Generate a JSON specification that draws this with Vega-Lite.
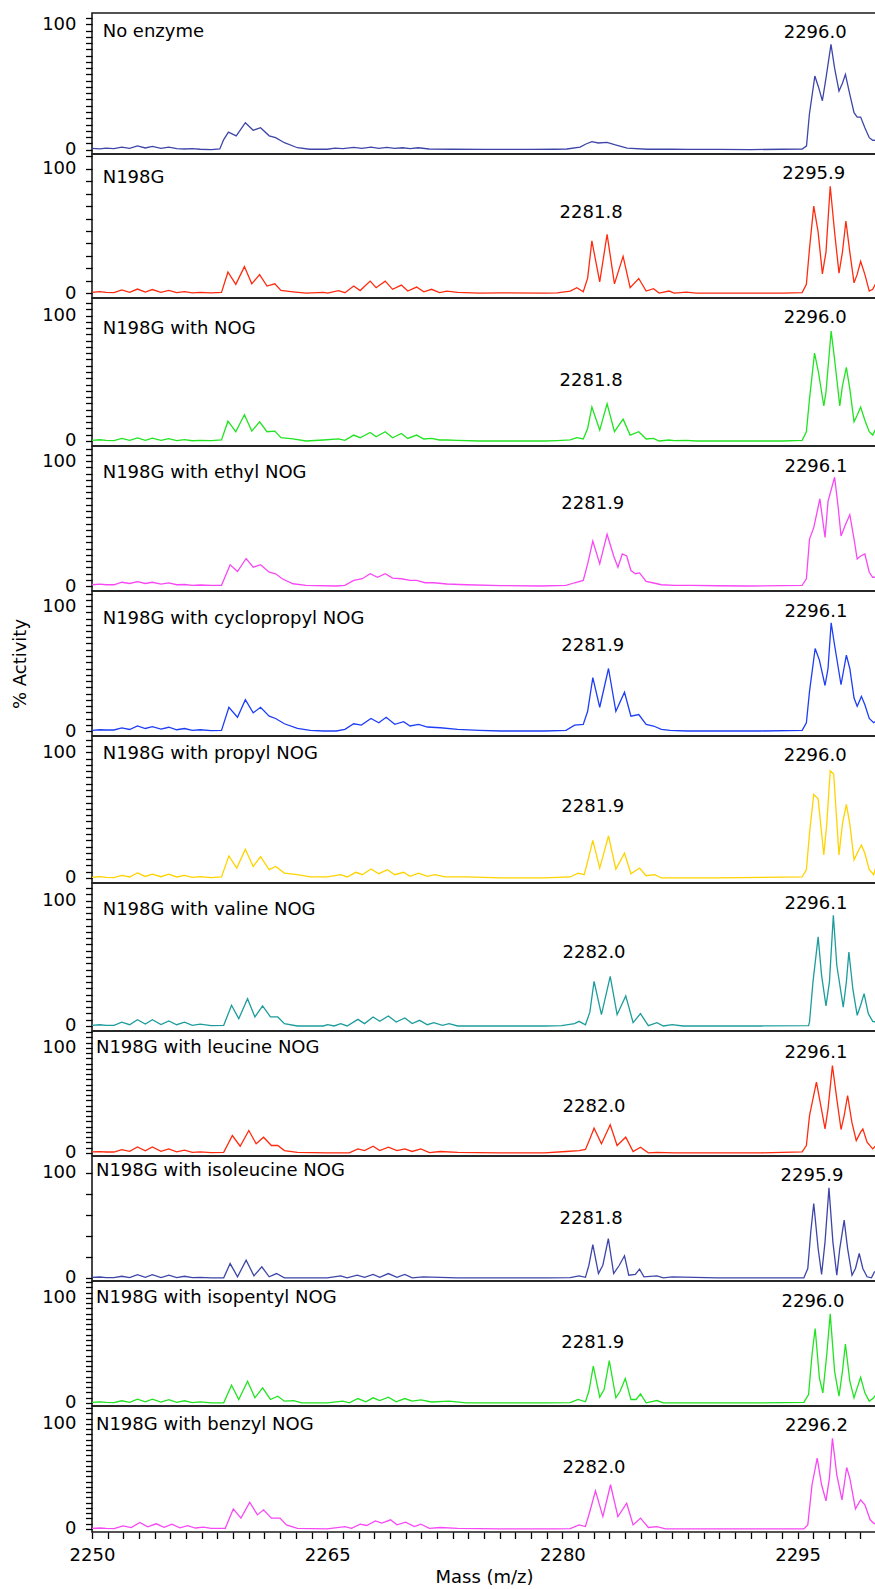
{
"$schema": "https://vega.github.io/schema/vega-lite/v6.json",
"padding": {"left": 10, "top": 8, "right": 0, "bottom": 4},
"background": "white",
"bounds": "flush",
"spacing": 0,
"config": {
"font": "DejaVu Sans",
"view": {"stroke": "#1a1a1a", "strokeWidth": 1.6},
"axis": {"domain": false, "grid": false, "ticks": true, "labelFont": "DejaVu Sans", "labelFontSize": 18, "labelColor": "#000", "tickColor": "#000", "tickWidth": 1.3, "tickSize": 6.5, "tickOpacity": 1, "tickRound": true, "titleFont": "DejaVu Sans", "titleFontSize": 18, "titleFontWeight": "normal", "titleColor": "#000", "labelOverlap": false, "labelFlush": false},
"text": {"font": "DejaVu Sans", "fontSize": 18, "baseline": "middle", "color": "#000"},
"line": {"strokeWidth": 1.3}
},
"datasets": {
"l": [
{"p":1,"k":"n","x":2250.68,"y":93.8,"t":"No enzyme"},
{"p":1,"k":"m","x":2296.12,"y":92.8,"t":"2296.0"},
{"p":2,"k":"n","x":2250.68,"y":92.7,"t":"N198G"},
{"p":2,"k":"m","x":2296.03,"y":95.9,"t":"2295.9"},
{"p":2,"k":"m","x":2281.83,"y":64.5,"t":"2281.8"},
{"p":3,"k":"n","x":2250.68,"y":89.3,"t":"N198G with NOG"},
{"p":3,"k":"m","x":2296.12,"y":97.7,"t":"2296.0"},
{"p":3,"k":"m","x":2281.83,"y":48.2,"t":"2281.8"},
{"p":4,"k":"n","x":2250.68,"y":90.4,"t":"N198G with ethyl NOG"},
{"p":4,"k":"m","x":2296.17,"y":95.2,"t":"2296.1"},
{"p":4,"k":"m","x":2281.94,"y":65.6,"t":"2281.9"},
{"p":5,"k":"n","x":2250.68,"y":89.6,"t":"N198G with cyclopropyl NOG"},
{"p":5,"k":"m","x":2296.17,"y":95.2,"t":"2296.1"},
{"p":5,"k":"m","x":2281.94,"y":68,"t":"2281.9"},
{"p":6,"k":"n","x":2250.68,"y":98.7,"t":"N198G with propyl NOG"},
{"p":6,"k":"m","x":2296.12,"y":97.1,"t":"2296.0"},
{"p":6,"k":"m","x":2281.94,"y":56.5,"t":"2281.9"},
{"p":7,"k":"n","x":2250.68,"y":92.5,"t":"N198G with valine NOG"},
{"p":7,"k":"m","x":2296.17,"y":97.3,"t":"2296.1"},
{"p":7,"k":"m","x":2282.02,"y":58.2,"t":"2282.0"},
{"p":8,"k":"n","x":2250.25,"y":99.8,"t":"N198G with leucine NOG"},
{"p":8,"k":"m","x":2296.17,"y":95.1,"t":"2296.1"},
{"p":8,"k":"m","x":2282.02,"y":43.6,"t":"2282.0"},
{"p":9,"k":"n","x":2250.25,"y":101.7,"t":"N198G with isoleucine NOG"},
{"p":9,"k":"m","x":2295.92,"y":97,"t":"2295.9"},
{"p":9,"k":"m","x":2281.83,"y":56,"t":"2281.8"},
{"p":10,"k":"n","x":2250.25,"y":99.8,"t":"N198G with isopentyl NOG"},
{"p":10,"k":"m","x":2295.98,"y":96,"t":"2296.0"},
{"p":10,"k":"m","x":2281.94,"y":57,"t":"2281.9"},
{"p":11,"k":"n","x":2250.25,"y":98.9,"t":"N198G with benzyl NOG"},
{"p":11,"k":"m","x":2296.2,"y":98,"t":"2296.2"},
{"p":11,"k":"m","x":2282.02,"y":58,"t":"2282.0"}
],
"s": [
{"p":1,"x":2250,"y":1},{"p":1,"x":2250.5,"y":0.6},{"p":1,"x":2250.9,"y":1.2},{"p":1,"x":2251.4,"y":0.8},{"p":1,"x":2251.9,"y":2},{"p":1,"x":2252.4,"y":1},{"p":1,"x":2252.9,"y":3},{"p":1,"x":2253.4,"y":1.3},{"p":1,"x":2253.85,"y":2.5},{"p":1,"x":2254.4,"y":1},{"p":1,"x":2254.9,"y":2},{"p":1,"x":2255.4,"y":0.8},{"p":1,"x":2255.9,"y":0.5},{"p":1,"x":2256.4,"y":0.8},{"p":1,"x":2256.9,"y":0.3},{"p":1,"x":2257.6,"y":0},
{"p":1,"x":2258.15,"y":0.5},{"p":1,"x":2258.4,"y":8},{"p":1,"x":2258.7,"y":14},{"p":1,"x":2259.2,"y":11},{"p":1,"x":2259.78,"y":21.5},{"p":1,"x":2260.28,"y":15.4},{"p":1,"x":2260.75,"y":17.5},{"p":1,"x":2261.3,"y":11},{"p":1,"x":2261.71,"y":9.5},{"p":1,"x":2262.27,"y":5.5},{"p":1,"x":2263.1,"y":1.5},{"p":1,"x":2263.9,"y":0.3},
{"p":1,"x":2265,"y":0.3},{"p":1,"x":2265.5,"y":1.2},{"p":1,"x":2266,"y":0.8},{"p":1,"x":2266.7,"y":1.8},{"p":1,"x":2267.2,"y":1},{"p":1,"x":2267.8,"y":2},{"p":1,"x":2268.3,"y":1},{"p":1,"x":2268.8,"y":1.8},{"p":1,"x":2269.3,"y":1},{"p":1,"x":2269.8,"y":1.5},{"p":1,"x":2270.3,"y":0.8},{"p":1,"x":2270.8,"y":1.5},{"p":1,"x":2271.5,"y":0.5},{"p":1,"x":2273,"y":0.3},{"p":1,"x":2275,"y":0.2},{"p":1,"x":2278,"y":0.2},{"p":1,"x":2279.5,"y":0.3},
{"p":1,"x":2280.28,"y":0.5},{"p":1,"x":2281.13,"y":2},{"p":1,"x":2281.5,"y":4.5},{"p":1,"x":2281.88,"y":6.3},{"p":1,"x":2282.29,"y":5.3},{"p":1,"x":2282.84,"y":5.8},{"p":1,"x":2283.38,"y":3.7},{"p":1,"x":2284.13,"y":1.2},{"p":1,"x":2285.41,"y":0.3},{"p":1,"x":2287,"y":0.3},{"p":1,"x":2288,"y":0.2},{"p":1,"x":2290,"y":0.2},{"p":1,"x":2292,"y":0},{"p":1,"x":2294,"y":0.3},{"p":1,"x":2295.3,"y":0.5},
{"p":1,"x":2295.57,"y":3},{"p":1,"x":2295.75,"y":28},{"p":1,"x":2296.1,"y":58.7},{"p":1,"x":2296.33,"y":50},{"p":1,"x":2296.58,"y":39},{"p":1,"x":2296.81,"y":57},{"p":1,"x":2297.13,"y":84},{"p":1,"x":2297.36,"y":65},{"p":1,"x":2297.64,"y":46.7},{"p":1,"x":2297.86,"y":53},{"p":1,"x":2298.05,"y":60},{"p":1,"x":2298.33,"y":44},{"p":1,"x":2298.6,"y":29.5},{"p":1,"x":2298.8,"y":26},{"p":1,"x":2299.02,"y":26},{"p":1,"x":2299.29,"y":17.5},{"p":1,"x":2299.57,"y":9.5},{"p":1,"x":2299.79,"y":7.4},{"p":1,"x":2300,"y":7.5},

{"p":2,"x":2250,"y":0.5},{"p":2,"x":2250.5,"y":1.2},{"p":2,"x":2250.9,"y":0.5},{"p":2,"x":2251.4,"y":0.3},{"p":2,"x":2251.9,"y":2.5},{"p":2,"x":2252.4,"y":0.5},{"p":2,"x":2252.9,"y":3.2},{"p":2,"x":2253.4,"y":0.8},{"p":2,"x":2253.85,"y":2.8},{"p":2,"x":2254.4,"y":0.5},{"p":2,"x":2254.9,"y":2.2},{"p":2,"x":2255.4,"y":0.3},{"p":2,"x":2255.9,"y":1.2},{"p":2,"x":2256.4,"y":0.2},{"p":2,"x":2256.9,"y":0.5},{"p":2,"x":2257.6,"y":0.2},
{"p":2,"x":2258.26,"y":0.5},{"p":2,"x":2258.67,"y":17},{"p":2,"x":2259.17,"y":7},{"p":2,"x":2259.72,"y":21.3},{"p":2,"x":2260.19,"y":7.4},{"p":2,"x":2260.69,"y":14.9},{"p":2,"x":2261.16,"y":5.6},{"p":2,"x":2261.66,"y":7.4},{"p":2,"x":2262.05,"y":2.1},{"p":2,"x":2262.82,"y":1},{"p":2,"x":2263.65,"y":0},{"p":2,"x":2264.75,"y":0.5},
{"p":2,"x":2265.03,"y":0},{"p":2,"x":2265.72,"y":2},{"p":2,"x":2266.13,"y":0.3},{"p":2,"x":2266.69,"y":5.6},{"p":2,"x":2267.1,"y":2},{"p":2,"x":2267.74,"y":9.6},{"p":2,"x":2268.12,"y":4.3},{"p":2,"x":2268.7,"y":9.6},{"p":2,"x":2269.17,"y":3},{"p":2,"x":2269.73,"y":6.4},{"p":2,"x":2270.14,"y":1.6},{"p":2,"x":2270.7,"y":4.8},{"p":2,"x":2271.16,"y":1},{"p":2,"x":2271.66,"y":3},{"p":2,"x":2272.16,"y":0.3},{"p":2,"x":2272.63,"y":1.6},{"p":2,"x":2273.32,"y":0.5},{"p":2,"x":2274.7,"y":0},{"p":2,"x":2276.08,"y":0.2},{"p":2,"x":2278.85,"y":0},{"p":2,"x":2279.67,"y":0.2},
{"p":2,"x":2280.5,"y":1.6},{"p":2,"x":2280.92,"y":4.3},{"p":2,"x":2281.33,"y":1},{"p":2,"x":2281.61,"y":12},{"p":2,"x":2281.88,"y":42},{"p":2,"x":2282.38,"y":9},{"p":2,"x":2282.85,"y":47.3},{"p":2,"x":2283.32,"y":7.4},{"p":2,"x":2283.87,"y":29.5},{"p":2,"x":2284.32,"y":4.3},{"p":2,"x":2284.87,"y":11.7},{"p":2,"x":2285.34,"y":1.6},{"p":2,"x":2285.81,"y":3.5},{"p":2,"x":2286.17,"y":0},{"p":2,"x":2286.8,"y":1.6},{"p":2,"x":2287.14,"y":0},{"p":2,"x":2287.91,"y":0.8},{"p":2,"x":2288.52,"y":0},{"p":2,"x":2289.9,"y":0},{"p":2,"x":2292.38,"y":0},{"p":2,"x":2294.04,"y":0},{"p":2,"x":2295.29,"y":0.3},
{"p":2,"x":2295.56,"y":7},{"p":2,"x":2295.76,"y":36},{"p":2,"x":2296.03,"y":70},{"p":2,"x":2296.31,"y":49},{"p":2,"x":2296.58,"y":15.4},{"p":2,"x":2296.81,"y":33},{"p":2,"x":2297.08,"y":86},{"p":2,"x":2297.36,"y":49},{"p":2,"x":2297.64,"y":16},{"p":2,"x":2297.86,"y":33},{"p":2,"x":2298.08,"y":58},{"p":2,"x":2298.33,"y":33},{"p":2,"x":2298.6,"y":8.2},{"p":2,"x":2298.8,"y":15},{"p":2,"x":2299.02,"y":25.5},{"p":2,"x":2299.29,"y":15},{"p":2,"x":2299.57,"y":1.6},{"p":2,"x":2299.79,"y":3},{"p":2,"x":2300,"y":8.2},

{"p":3,"x":2250,"y":0.5},{"p":3,"x":2250.5,"y":1},{"p":3,"x":2250.9,"y":0.5},{"p":3,"x":2251.4,"y":0.3},{"p":3,"x":2251.9,"y":2},{"p":3,"x":2252.4,"y":0.5},{"p":3,"x":2252.9,"y":2.5},{"p":3,"x":2253.4,"y":0.5},{"p":3,"x":2253.85,"y":2.2},{"p":3,"x":2254.4,"y":0.5},{"p":3,"x":2254.9,"y":1.8},{"p":3,"x":2255.4,"y":0.3},{"p":3,"x":2255.9,"y":1},{"p":3,"x":2256.4,"y":0.2},{"p":3,"x":2256.9,"y":0.5},{"p":3,"x":2257.6,"y":0.3},
{"p":3,"x":2258.26,"y":0.8},{"p":3,"x":2258.67,"y":15.8},{"p":3,"x":2259.17,"y":7.4},{"p":3,"x":2259.72,"y":21},{"p":3,"x":2260.19,"y":7.9},{"p":3,"x":2260.69,"y":15.3},{"p":3,"x":2261.16,"y":7.4},{"p":3,"x":2261.66,"y":7.9},{"p":3,"x":2262.05,"y":2.6},{"p":3,"x":2262.82,"y":1.6},{"p":3,"x":2263.65,"y":0},{"p":3,"x":2264.75,"y":0.8},
{"p":3,"x":2265.72,"y":1.6},{"p":3,"x":2266.13,"y":0.5},{"p":3,"x":2266.69,"y":4.7},{"p":3,"x":2267.1,"y":2.6},{"p":3,"x":2267.74,"y":6.8},{"p":3,"x":2268.12,"y":3.4},{"p":3,"x":2268.7,"y":7.4},{"p":3,"x":2269.17,"y":2.6},{"p":3,"x":2269.73,"y":6},{"p":3,"x":2270.14,"y":2},{"p":3,"x":2270.7,"y":4.7},{"p":3,"x":2271.16,"y":1.6},{"p":3,"x":2271.66,"y":2},{"p":3,"x":2272.16,"y":0.8},{"p":3,"x":2272.63,"y":0.8},{"p":3,"x":2273.32,"y":0.5},{"p":3,"x":2274.7,"y":0},{"p":3,"x":2276.08,"y":0},{"p":3,"x":2278.85,"y":0},{"p":3,"x":2279.67,"y":0.3},
{"p":3,"x":2280.5,"y":0.8},{"p":3,"x":2280.92,"y":2.6},{"p":3,"x":2281.33,"y":1.6},{"p":3,"x":2281.61,"y":10},{"p":3,"x":2281.88,"y":27},{"p":3,"x":2282.38,"y":8.7},{"p":3,"x":2282.85,"y":29.7},{"p":3,"x":2283.32,"y":7.4},{"p":3,"x":2283.87,"y":17.4},{"p":3,"x":2284.32,"y":4.7},{"p":3,"x":2284.87,"y":7.4},{"p":3,"x":2285.34,"y":1.6},{"p":3,"x":2285.81,"y":2},{"p":3,"x":2286.17,"y":0},{"p":3,"x":2286.8,"y":0.8},{"p":3,"x":2287.14,"y":0.3},{"p":3,"x":2287.91,"y":0.5},{"p":3,"x":2288.52,"y":0},{"p":3,"x":2289.9,"y":0},{"p":3,"x":2292.38,"y":0},{"p":3,"x":2294.04,"y":0},{"p":3,"x":2295.29,"y":0.5},
{"p":3,"x":2295.56,"y":7.4},{"p":3,"x":2295.76,"y":33.7},{"p":3,"x":2296.08,"y":70},{"p":3,"x":2296.33,"y":55},{"p":3,"x":2296.67,"y":27.9},{"p":3,"x":2296.81,"y":39},{"p":3,"x":2297.14,"y":87.6},{"p":3,"x":2297.36,"y":65},{"p":3,"x":2297.69,"y":28},{"p":3,"x":2297.86,"y":44},{"p":3,"x":2298.11,"y":58.7},{"p":3,"x":2298.33,"y":41.6},{"p":3,"x":2298.6,"y":15.3},{"p":3,"x":2298.8,"y":20.5},{"p":3,"x":2299.02,"y":27},{"p":3,"x":2299.29,"y":16.6},{"p":3,"x":2299.57,"y":7.4},{"p":3,"x":2299.79,"y":4.7},{"p":3,"x":2300,"y":10},

{"p":4,"x":2250,"y":1},{"p":4,"x":2250.5,"y":1.5},{"p":4,"x":2250.9,"y":1},{"p":4,"x":2251.4,"y":1},{"p":4,"x":2251.9,"y":3},{"p":4,"x":2252.4,"y":2},{"p":4,"x":2252.9,"y":3.5},{"p":4,"x":2253.4,"y":2},{"p":4,"x":2253.85,"y":3},{"p":4,"x":2254.4,"y":1.5},{"p":4,"x":2254.9,"y":2.5},{"p":4,"x":2255.4,"y":1},{"p":4,"x":2255.9,"y":1.2},{"p":4,"x":2256.4,"y":0.5},{"p":4,"x":2256.9,"y":0.8},{"p":4,"x":2257.6,"y":0.5},
{"p":4,"x":2258.26,"y":0.5},{"p":4,"x":2258.81,"y":17},{"p":4,"x":2259.28,"y":11.6},{"p":4,"x":2259.83,"y":22},{"p":4,"x":2260.28,"y":15},{"p":4,"x":2260.75,"y":17},{"p":4,"x":2261.3,"y":11},{"p":4,"x":2261.71,"y":9.8},{"p":4,"x":2262.13,"y":5.8},{"p":4,"x":2262.82,"y":1.8},{"p":4,"x":2263.65,"y":0.5},{"p":4,"x":2265.58,"y":0},
{"p":4,"x":2266.13,"y":0.5},{"p":4,"x":2266.69,"y":4.5},{"p":4,"x":2267.24,"y":5.8},{"p":4,"x":2267.74,"y":9.8},{"p":4,"x":2268.21,"y":7},{"p":4,"x":2268.7,"y":9.8},{"p":4,"x":2269.17,"y":6.3},{"p":4,"x":2269.73,"y":5.8},{"p":4,"x":2270.28,"y":4.5},{"p":4,"x":2270.7,"y":4.5},{"p":4,"x":2271.25,"y":2.6},{"p":4,"x":2271.8,"y":2.6},{"p":4,"x":2272.63,"y":1.6},{"p":4,"x":2273.87,"y":1},{"p":4,"x":2276.08,"y":0.3},{"p":4,"x":2278.57,"y":0},{"p":4,"x":2280.23,"y":0.5},
{"p":4,"x":2280.78,"y":2.6},{"p":4,"x":2281.33,"y":4.5},{"p":4,"x":2281.61,"y":17.7},{"p":4,"x":2281.94,"y":36},{"p":4,"x":2282.38,"y":17.7},{"p":4,"x":2282.85,"y":41.4},{"p":4,"x":2283.27,"y":24},{"p":4,"x":2283.54,"y":15},{"p":4,"x":2283.82,"y":25.6},{"p":4,"x":2284.1,"y":24},{"p":4,"x":2284.37,"y":12.4},{"p":4,"x":2284.65,"y":9.8},{"p":4,"x":2284.92,"y":10.5},{"p":4,"x":2285.34,"y":3.7},{"p":4,"x":2285.75,"y":2.6},{"p":4,"x":2286.31,"y":1},{"p":4,"x":2287.14,"y":0.5},{"p":4,"x":2288.24,"y":0.5},{"p":4,"x":2289.9,"y":0.2},{"p":4,"x":2291.83,"y":0},{"p":4,"x":2294.04,"y":0.3},{"p":4,"x":2295.29,"y":0.5},
{"p":4,"x":2295.56,"y":5.8},{"p":4,"x":2295.76,"y":37.5},{"p":4,"x":2296.03,"y":46.7},{"p":4,"x":2296.42,"y":69.7},{"p":4,"x":2296.75,"y":38.8},{"p":4,"x":2296.94,"y":67.8},{"p":4,"x":2297.36,"y":87},{"p":4,"x":2297.58,"y":64},{"p":4,"x":2297.77,"y":40},{"p":4,"x":2298.05,"y":49},{"p":4,"x":2298.33,"y":57},{"p":4,"x":2298.6,"y":37.5},{"p":4,"x":2298.8,"y":21.6},{"p":4,"x":2299.02,"y":24},{"p":4,"x":2299.29,"y":25.6},{"p":4,"x":2299.57,"y":11},{"p":4,"x":2299.79,"y":7},{"p":4,"x":2300,"y":7},

{"p":5,"x":2250,"y":0.5},{"p":5,"x":2250.5,"y":1},{"p":5,"x":2250.9,"y":0.8},{"p":5,"x":2251.4,"y":0.8},{"p":5,"x":2251.9,"y":2.5},{"p":5,"x":2252.4,"y":1.2},{"p":5,"x":2252.9,"y":4},{"p":5,"x":2253.4,"y":2},{"p":5,"x":2253.85,"y":3.5},{"p":5,"x":2254.4,"y":1.5},{"p":5,"x":2254.9,"y":3},{"p":5,"x":2255.4,"y":1},{"p":5,"x":2255.9,"y":2},{"p":5,"x":2256.4,"y":0.5},{"p":5,"x":2256.9,"y":1},{"p":5,"x":2257.6,"y":0.3},
{"p":5,"x":2258.26,"y":0.5},{"p":5,"x":2258.73,"y":19},{"p":5,"x":2259.28,"y":11},{"p":5,"x":2259.78,"y":25},{"p":5,"x":2260.28,"y":14.5},{"p":5,"x":2260.75,"y":19},{"p":5,"x":2261.3,"y":11.9},{"p":5,"x":2261.71,"y":10},{"p":5,"x":2262.27,"y":5.8},{"p":5,"x":2263.1,"y":2.1},{"p":5,"x":2263.92,"y":0.5},{"p":5,"x":2264.75,"y":0},{"p":5,"x":2265.58,"y":0},
{"p":5,"x":2266.13,"y":1.3},{"p":5,"x":2266.69,"y":5.8},{"p":5,"x":2267.18,"y":4.7},{"p":5,"x":2267.79,"y":10},{"p":5,"x":2268.29,"y":6.6},{"p":5,"x":2268.76,"y":11},{"p":5,"x":2269.31,"y":5.3},{"p":5,"x":2269.87,"y":7.4},{"p":5,"x":2270.28,"y":4},{"p":5,"x":2270.83,"y":5.3},{"p":5,"x":2271.39,"y":3.2},{"p":5,"x":2272.21,"y":2.6},{"p":5,"x":2273.32,"y":1.3},{"p":5,"x":2274.7,"y":0.5},{"p":5,"x":2276.08,"y":0},{"p":5,"x":2278.85,"y":0},{"p":5,"x":2280.23,"y":0.5},
{"p":5,"x":2280.78,"y":4.7},{"p":5,"x":2281.33,"y":5.3},{"p":5,"x":2281.61,"y":15.8},{"p":5,"x":2281.94,"y":42.7},{"p":5,"x":2282.38,"y":19},{"p":5,"x":2282.94,"y":50},{"p":5,"x":2283.41,"y":15.8},{"p":5,"x":2283.96,"y":31},{"p":5,"x":2284.37,"y":11.9},{"p":5,"x":2284.87,"y":13.2},{"p":5,"x":2285.34,"y":5.3},{"p":5,"x":2285.81,"y":4},{"p":5,"x":2286.31,"y":1.3},{"p":5,"x":2286.86,"y":0.5},{"p":5,"x":2287.96,"y":0},{"p":5,"x":2289.9,"y":0},{"p":5,"x":2292.66,"y":0},{"p":5,"x":2295.29,"y":0.5},
{"p":5,"x":2295.56,"y":6.6},{"p":5,"x":2295.76,"y":31.7},{"p":5,"x":2296.12,"y":66},{"p":5,"x":2296.39,"y":56.7},{"p":5,"x":2296.75,"y":36.4},{"p":5,"x":2296.94,"y":50},{"p":5,"x":2297.14,"y":86.5},{"p":5,"x":2297.36,"y":68.6},{"p":5,"x":2297.77,"y":37},{"p":5,"x":2298.11,"y":60.7},{"p":5,"x":2298.33,"y":50},{"p":5,"x":2298.6,"y":26.4},{"p":5,"x":2298.8,"y":19.8},{"p":5,"x":2299.07,"y":27.7},{"p":5,"x":2299.29,"y":21},{"p":5,"x":2299.57,"y":10},{"p":5,"x":2299.85,"y":6.6},{"p":5,"x":2300,"y":7.9},

{"p":6,"x":2250,"y":0.5},{"p":6,"x":2250.5,"y":1},{"p":6,"x":2250.9,"y":0.5},{"p":6,"x":2251.4,"y":0.3},{"p":6,"x":2251.9,"y":2},{"p":6,"x":2252.4,"y":0.8},{"p":6,"x":2252.9,"y":4},{"p":6,"x":2253.4,"y":1.2},{"p":6,"x":2253.85,"y":3},{"p":6,"x":2254.4,"y":1},{"p":6,"x":2254.9,"y":3},{"p":6,"x":2255.4,"y":0.8},{"p":6,"x":2255.9,"y":2},{"p":6,"x":2256.4,"y":0.5},{"p":6,"x":2256.9,"y":1},{"p":6,"x":2257.6,"y":0.3},
{"p":6,"x":2258.26,"y":0.8},{"p":6,"x":2258.73,"y":17.6},{"p":6,"x":2259.23,"y":7.9},{"p":6,"x":2259.78,"y":22.9},{"p":6,"x":2260.28,"y":9.2},{"p":6,"x":2260.75,"y":17},{"p":6,"x":2261.3,"y":6.6},{"p":6,"x":2261.71,"y":9.2},{"p":6,"x":2262.27,"y":3.9},{"p":6,"x":2263.1,"y":2.6},{"p":6,"x":2263.92,"y":0.8},{"p":6,"x":2265.03,"y":0.8},{"p":6,"x":2265.86,"y":2.6},{"p":6,"x":2266.27,"y":0.8},
{"p":6,"x":2266.83,"y":4.5},{"p":6,"x":2267.24,"y":2.6},{"p":6,"x":2267.79,"y":7.1},{"p":6,"x":2268.29,"y":3.4},{"p":6,"x":2268.84,"y":6.6},{"p":6,"x":2269.31,"y":2.6},{"p":6,"x":2269.87,"y":4.5},{"p":6,"x":2270.28,"y":1.3},{"p":6,"x":2270.83,"y":3.9},{"p":6,"x":2271.39,"y":1.3},{"p":6,"x":2271.88,"y":2.6},{"p":6,"x":2272.49,"y":0.8},{"p":6,"x":2273.87,"y":0.8},{"p":6,"x":2276.08,"y":0},{"p":6,"x":2278.85,"y":0},{"p":6,"x":2280.5,"y":0.8},
{"p":6,"x":2281,"y":3.9},{"p":6,"x":2281.39,"y":2.6},{"p":6,"x":2281.61,"y":13},{"p":6,"x":2281.94,"y":30},{"p":6,"x":2282.38,"y":7.9},{"p":6,"x":2282.94,"y":33.4},{"p":6,"x":2283.41,"y":7.1},{"p":6,"x":2283.96,"y":19.7},{"p":6,"x":2284.37,"y":3.4},{"p":6,"x":2284.92,"y":7.9},{"p":6,"x":2285.34,"y":1.8},{"p":6,"x":2285.89,"y":2.6},{"p":6,"x":2286.31,"y":0},{"p":6,"x":2287.14,"y":0},{"p":6,"x":2289.9,"y":0},{"p":6,"x":2295.29,"y":0.8},
{"p":6,"x":2295.56,"y":6.6},{"p":6,"x":2295.76,"y":35.5},{"p":6,"x":2296.03,"y":66.5},{"p":6,"x":2296.31,"y":63},{"p":6,"x":2296.67,"y":18.4},{"p":6,"x":2296.86,"y":43},{"p":6,"x":2297.08,"y":85.4},{"p":6,"x":2297.3,"y":82.7},{"p":6,"x":2297.64,"y":18.4},{"p":6,"x":2297.86,"y":43},{"p":6,"x":2298.11,"y":58.6},{"p":6,"x":2298.33,"y":43},{"p":6,"x":2298.6,"y":14.4},{"p":6,"x":2298.8,"y":19.7},{"p":6,"x":2299.07,"y":26.3},{"p":6,"x":2299.29,"y":19.7},{"p":6,"x":2299.57,"y":6.6},{"p":6,"x":2299.85,"y":2.6},{"p":6,"x":2300,"y":9.2},

{"p":7,"x":2250,"y":0.5},{"p":7,"x":2250.5,"y":1},{"p":7,"x":2250.9,"y":0.5},{"p":7,"x":2251.4,"y":0.5},{"p":7,"x":2251.9,"y":3},{"p":7,"x":2252.4,"y":1},{"p":7,"x":2252.9,"y":5},{"p":7,"x":2253.4,"y":1.5},{"p":7,"x":2253.85,"y":5},{"p":7,"x":2254.4,"y":1.2},{"p":7,"x":2254.9,"y":4},{"p":7,"x":2255.4,"y":1},{"p":7,"x":2255.9,"y":3},{"p":7,"x":2256.4,"y":0.5},{"p":7,"x":2256.9,"y":1.5},{"p":7,"x":2257.6,"y":0.3},
{"p":7,"x":2258.4,"y":0.5},{"p":7,"x":2258.9,"y":16.5},{"p":7,"x":2259.36,"y":5.8},{"p":7,"x":2259.92,"y":21.8},{"p":7,"x":2260.39,"y":7.2},{"p":7,"x":2260.88,"y":16},{"p":7,"x":2261.38,"y":7.2},{"p":7,"x":2261.85,"y":7.2},{"p":7,"x":2262.27,"y":1.9},{"p":7,"x":2263.1,"y":0},{"p":7,"x":2264.75,"y":0},{"p":7,"x":2265.03,"y":1},{"p":7,"x":2265.44,"y":0},{"p":7,"x":2265.86,"y":1.9},{"p":7,"x":2266.27,"y":0},
{"p":7,"x":2266.96,"y":5.3},{"p":7,"x":2267.38,"y":1.9},{"p":7,"x":2267.93,"y":7.2},{"p":7,"x":2268.35,"y":3.7},{"p":7,"x":2268.9,"y":8},{"p":7,"x":2269.4,"y":3.2},{"p":7,"x":2269.95,"y":6.4},{"p":7,"x":2270.42,"y":1.9},{"p":7,"x":2270.89,"y":4.5},{"p":7,"x":2271.39,"y":1},{"p":7,"x":2271.8,"y":2.7},{"p":7,"x":2272.35,"y":0.5},{"p":7,"x":2272.77,"y":1.9},{"p":7,"x":2273.32,"y":0},{"p":7,"x":2275.81,"y":0},{"p":7,"x":2278.85,"y":0},{"p":7,"x":2279.95,"y":0.3},
{"p":7,"x":2280.78,"y":1.9},{"p":7,"x":2281.06,"y":3.7},{"p":7,"x":2281.47,"y":1},{"p":7,"x":2281.75,"y":11},{"p":7,"x":2282.02,"y":35.6},{"p":7,"x":2282.49,"y":9},{"p":7,"x":2283.05,"y":39.6},{"p":7,"x":2283.49,"y":9},{"p":7,"x":2284.04,"y":24},{"p":7,"x":2284.51,"y":2.7},{"p":7,"x":2284.98,"y":9.8},{"p":7,"x":2285.48,"y":0.3},{"p":7,"x":2286.03,"y":2.7},{"p":7,"x":2286.44,"y":0},{"p":7,"x":2287,"y":1},{"p":7,"x":2287.69,"y":0},{"p":7,"x":2289.9,"y":0},{"p":7,"x":2292.66,"y":0},{"p":7,"x":2295.7,"y":0.3},
{"p":7,"x":2295.76,"y":3.2},{"p":7,"x":2295.98,"y":35},{"p":7,"x":2296.31,"y":71},{"p":7,"x":2296.53,"y":40.4},{"p":7,"x":2296.81,"y":16},{"p":7,"x":2297.03,"y":35},{"p":7,"x":2297.28,"y":88.2},{"p":7,"x":2297.5,"y":48.4},{"p":7,"x":2297.91,"y":15},{"p":7,"x":2298.11,"y":35},{"p":7,"x":2298.27,"y":59},{"p":7,"x":2298.52,"y":29.8},{"p":7,"x":2298.8,"y":8.5},{"p":7,"x":2299.02,"y":16.5},{"p":7,"x":2299.24,"y":25.8},{"p":7,"x":2299.51,"y":9.8},{"p":7,"x":2299.79,"y":3.7},{"p":7,"x":2300,"y":3.2},

{"p":8,"x":2250,"y":1},{"p":8,"x":2250.5,"y":1.2},{"p":8,"x":2250.9,"y":0.8},{"p":8,"x":2251.4,"y":0.8},{"p":8,"x":2251.9,"y":3},{"p":8,"x":2252.4,"y":1.5},{"p":8,"x":2252.9,"y":5.7},{"p":8,"x":2253.4,"y":2},{"p":8,"x":2253.85,"y":5.7},{"p":8,"x":2254.4,"y":1.5},{"p":8,"x":2254.9,"y":3.8},{"p":8,"x":2255.4,"y":1},{"p":8,"x":2255.9,"y":2.5},{"p":8,"x":2256.4,"y":0.5},{"p":8,"x":2256.9,"y":1},{"p":8,"x":2257.6,"y":0.3},
{"p":8,"x":2258.4,"y":0.5},{"p":8,"x":2258.95,"y":16.5},{"p":8,"x":2259.45,"y":6.3},{"p":8,"x":2260,"y":21.3},{"p":8,"x":2260.47,"y":8.6},{"p":8,"x":2260.94,"y":14.9},{"p":8,"x":2261.44,"y":7},{"p":8,"x":2261.85,"y":7},{"p":8,"x":2262.27,"y":2.2},{"p":8,"x":2263.1,"y":0.5},{"p":8,"x":2265,"y":0},{"p":8,"x":2266.41,"y":0},
{"p":8,"x":2266.96,"y":3.8},{"p":8,"x":2267.38,"y":2.2},{"p":8,"x":2267.93,"y":6.3},{"p":8,"x":2268.35,"y":2.2},{"p":8,"x":2268.9,"y":5.4},{"p":8,"x":2269.45,"y":2.2},{"p":8,"x":2269.95,"y":3.8},{"p":8,"x":2270.42,"y":1.3},{"p":8,"x":2270.97,"y":3.8},{"p":8,"x":2271.52,"y":0.3},{"p":8,"x":2272.21,"y":1.3},{"p":8,"x":2273.32,"y":0.5},{"p":8,"x":2276,"y":0},{"p":8,"x":2278.85,"y":0},{"p":8,"x":2280.23,"y":1.3},
{"p":8,"x":2281.06,"y":2.2},{"p":8,"x":2281.47,"y":3.2},{"p":8,"x":2281.75,"y":13.3},{"p":8,"x":2282.02,"y":23.5},{"p":8,"x":2282.49,"y":8.6},{"p":8,"x":2283.05,"y":26.7},{"p":8,"x":2283.49,"y":7},{"p":8,"x":2284.04,"y":14.9},{"p":8,"x":2284.51,"y":1.3},{"p":8,"x":2284.98,"y":5.4},{"p":8,"x":2285.48,"y":0},{"p":8,"x":2286.03,"y":0.5},{"p":8,"x":2287.14,"y":0},{"p":8,"x":2289.9,"y":0},{"p":8,"x":2292.66,"y":0},{"p":8,"x":2295.29,"y":1},
{"p":8,"x":2295.56,"y":7},{"p":8,"x":2295.76,"y":35.5},{"p":8,"x":2296.2,"y":67.3},{"p":8,"x":2296.48,"y":45},{"p":8,"x":2296.75,"y":22.8},{"p":8,"x":2296.94,"y":41.9},{"p":8,"x":2297.22,"y":83},{"p":8,"x":2297.5,"y":51.4},{"p":8,"x":2297.77,"y":22.2},{"p":8,"x":2297.97,"y":35.5},{"p":8,"x":2298.19,"y":54.6},{"p":8,"x":2298.46,"y":29.2},{"p":8,"x":2298.74,"y":11.7},{"p":8,"x":2299.02,"y":19.7},{"p":8,"x":2299.16,"y":22.8},{"p":8,"x":2299.43,"y":10.2},{"p":8,"x":2299.79,"y":3.8},{"p":8,"x":2300,"y":7},

{"p":9,"x":2250,"y":0.5},{"p":9,"x":2250.5,"y":0.8},{"p":9,"x":2250.9,"y":0.3},{"p":9,"x":2251.4,"y":0.3},{"p":9,"x":2251.9,"y":1.5},{"p":9,"x":2252.4,"y":0.3},{"p":9,"x":2252.9,"y":3},{"p":9,"x":2253.4,"y":0.5},{"p":9,"x":2253.85,"y":3},{"p":9,"x":2254.4,"y":0.3},{"p":9,"x":2254.9,"y":2.5},{"p":9,"x":2255.4,"y":0.3},{"p":9,"x":2255.9,"y":1.5},{"p":9,"x":2256.4,"y":0.2},{"p":9,"x":2256.9,"y":0.5},{"p":9,"x":2257.6,"y":0},
{"p":9,"x":2258.4,"y":0},{"p":9,"x":2258.81,"y":13.6},{"p":9,"x":2259.28,"y":1},{"p":9,"x":2259.83,"y":16.8},{"p":9,"x":2260.33,"y":1.9},{"p":9,"x":2260.83,"y":10.5},{"p":9,"x":2261.3,"y":1},{"p":9,"x":2261.77,"y":4.1},{"p":9,"x":2262.27,"y":0},{"p":9,"x":2265,"y":0},{"p":9,"x":2265.86,"y":1.9},{"p":9,"x":2266.27,"y":0},
{"p":9,"x":2266.91,"y":2.5},{"p":9,"x":2267.38,"y":0.5},{"p":9,"x":2267.93,"y":3.2},{"p":9,"x":2268.35,"y":0.5},{"p":9,"x":2268.9,"y":4.1},{"p":9,"x":2269.45,"y":0.5},{"p":9,"x":2269.95,"y":3.2},{"p":9,"x":2270.42,"y":0},{"p":9,"x":2271.11,"y":1},{"p":9,"x":2273.3,"y":0},{"p":9,"x":2276,"y":0},{"p":9,"x":2279,"y":0},{"p":9,"x":2280.5,"y":0.3},
{"p":9,"x":2281.06,"y":1.9},{"p":9,"x":2281.47,"y":0.5},{"p":9,"x":2281.69,"y":12},{"p":9,"x":2281.94,"y":31.7},{"p":9,"x":2282.3,"y":4.1},{"p":9,"x":2282.58,"y":12},{"p":9,"x":2282.93,"y":37.4},{"p":9,"x":2283.27,"y":4.1},{"p":9,"x":2283.63,"y":12},{"p":9,"x":2283.96,"y":21},{"p":9,"x":2284.23,"y":2.5},{"p":9,"x":2284.65,"y":3.2},{"p":9,"x":2284.92,"y":8.3},{"p":9,"x":2285.2,"y":1},{"p":9,"x":2286.03,"y":1.9},{"p":9,"x":2286.44,"y":0},{"p":9,"x":2287,"y":1},{"p":9,"x":2289.9,"y":0},{"p":9,"x":2292.66,"y":0},{"p":9,"x":2295.4,"y":0},
{"p":9,"x":2295.65,"y":8.9},{"p":9,"x":2295.84,"y":43.8},{"p":9,"x":2296.03,"y":70.8},{"p":9,"x":2296.31,"y":27.9},{"p":9,"x":2296.53,"y":3.2},{"p":9,"x":2296.75,"y":34.3},{"p":9,"x":2297,"y":85.7},{"p":9,"x":2297.25,"y":34.3},{"p":9,"x":2297.5,"y":2.5},{"p":9,"x":2297.69,"y":27.9},{"p":9,"x":2297.97,"y":55},{"p":9,"x":2298.19,"y":27.9},{"p":9,"x":2298.47,"y":2.5},{"p":9,"x":2298.69,"y":8.9},{"p":9,"x":2298.93,"y":23.2},{"p":9,"x":2299.16,"y":8.9},{"p":9,"x":2299.43,"y":1},{"p":9,"x":2299.71,"y":0},{"p":9,"x":2299.9,"y":5.7},{"p":9,"x":2300,"y":5.7},

{"p":10,"x":2250,"y":0.5},{"p":10,"x":2250.5,"y":1},{"p":10,"x":2250.9,"y":0.5},{"p":10,"x":2251.4,"y":0.3},{"p":10,"x":2251.9,"y":2},{"p":10,"x":2252.4,"y":0.5},{"p":10,"x":2252.9,"y":3.5},{"p":10,"x":2253.4,"y":1},{"p":10,"x":2253.85,"y":3.5},{"p":10,"x":2254.4,"y":0.8},{"p":10,"x":2254.9,"y":3},{"p":10,"x":2255.4,"y":0.5},{"p":10,"x":2255.9,"y":2},{"p":10,"x":2256.4,"y":0.3},{"p":10,"x":2256.9,"y":1},{"p":10,"x":2257.6,"y":0},
{"p":10,"x":2258.4,"y":0},{"p":10,"x":2258.9,"y":16.8},{"p":10,"x":2259.36,"y":3.2},{"p":10,"x":2259.92,"y":20.6},{"p":10,"x":2260.39,"y":4.8},{"p":10,"x":2260.88,"y":14.3},{"p":10,"x":2261.38,"y":3.2},{"p":10,"x":2261.85,"y":6.3},{"p":10,"x":2262.27,"y":1.6},{"p":10,"x":2262.87,"y":2.2},{"p":10,"x":2263.37,"y":0},{"p":10,"x":2265,"y":0},{"p":10,"x":2266,"y":1.6},{"p":10,"x":2266.41,"y":0},
{"p":10,"x":2266.96,"y":4.1},{"p":10,"x":2267.46,"y":1},{"p":10,"x":2267.93,"y":4.8},{"p":10,"x":2268.35,"y":2.2},{"p":10,"x":2268.9,"y":5.4},{"p":10,"x":2269.4,"y":1},{"p":10,"x":2269.95,"y":4.1},{"p":10,"x":2270.42,"y":1.6},{"p":10,"x":2270.97,"y":2.9},{"p":10,"x":2271.66,"y":0.8},{"p":10,"x":2272.77,"y":1.6},{"p":10,"x":2273.87,"y":0},{"p":10,"x":2276,"y":0},{"p":10,"x":2279,"y":0},{"p":10,"x":2280.5,"y":0.3},
{"p":10,"x":2281,"y":3.2},{"p":10,"x":2281.47,"y":1},{"p":10,"x":2281.69,"y":11},{"p":10,"x":2281.97,"y":35},{"p":10,"x":2282.38,"y":5.4},{"p":10,"x":2282.66,"y":12.7},{"p":10,"x":2282.99,"y":40.3},{"p":10,"x":2283.41,"y":4.8},{"p":10,"x":2283.68,"y":11},{"p":10,"x":2284.01,"y":23.2},{"p":10,"x":2284.37,"y":3.2},{"p":10,"x":2284.7,"y":3.2},{"p":10,"x":2284.98,"y":8.6},{"p":10,"x":2285.34,"y":0},{"p":10,"x":2286.03,"y":2.2},{"p":10,"x":2286.44,"y":0},{"p":10,"x":2289.9,"y":0},{"p":10,"x":2292.66,"y":0},{"p":10,"x":2295.4,"y":0.5},
{"p":10,"x":2295.7,"y":7.9},{"p":10,"x":2295.92,"y":46},{"p":10,"x":2296.12,"y":70.8},{"p":10,"x":2296.39,"y":23.8},{"p":10,"x":2296.61,"y":9.5},{"p":10,"x":2296.86,"y":46},{"p":10,"x":2297.08,"y":84.7},{"p":10,"x":2297.36,"y":30},{"p":10,"x":2297.64,"y":6.3},{"p":10,"x":2297.86,"y":30},{"p":10,"x":2298.05,"y":56},{"p":10,"x":2298.33,"y":20.6},{"p":10,"x":2298.6,"y":4.8},{"p":10,"x":2298.8,"y":14.3},{"p":10,"x":2299.02,"y":24.4},{"p":10,"x":2299.29,"y":9.5},{"p":10,"x":2299.57,"y":1.6},{"p":10,"x":2299.85,"y":4.8},{"p":10,"x":2300,"y":7.9},

{"p":11,"x":2250,"y":0.5},{"p":11,"x":2250.5,"y":0.8},{"p":11,"x":2250.9,"y":0.5},{"p":11,"x":2251.4,"y":0.3},{"p":11,"x":2251.99,"y":2.9},{"p":11,"x":2252.5,"y":1.2},{"p":11,"x":2253.05,"y":6},{"p":11,"x":2253.55,"y":2},{"p":11,"x":2254.1,"y":4.8},{"p":11,"x":2254.6,"y":1.5},{"p":11,"x":2255.1,"y":4.4},{"p":11,"x":2255.6,"y":1},{"p":11,"x":2256.1,"y":3},{"p":11,"x":2256.6,"y":0.8},{"p":11,"x":2257.1,"y":1.6},{"p":11,"x":2257.6,"y":0.5},
{"p":11,"x":2258.5,"y":0.5},{"p":11,"x":2259.01,"y":19},{"p":11,"x":2259.5,"y":10.2},{"p":11,"x":2260.06,"y":25.4},{"p":11,"x":2260.55,"y":13.3},{"p":11,"x":2260.94,"y":18.1},{"p":11,"x":2261.44,"y":10.2},{"p":11,"x":2261.99,"y":10.2},{"p":11,"x":2262.4,"y":3.8},{"p":11,"x":2263.1,"y":0.5},{"p":11,"x":2265,"y":0},{"p":11,"x":2266.13,"y":2.2},
{"p":11,"x":2266.55,"y":0.5},{"p":11,"x":2267.1,"y":4.4},{"p":11,"x":2267.52,"y":3.2},{"p":11,"x":2268.07,"y":7.6},{"p":11,"x":2268.48,"y":5.4},{"p":11,"x":2269.04,"y":8.6},{"p":11,"x":2269.45,"y":3.8},{"p":11,"x":2270,"y":6.3},{"p":11,"x":2270.56,"y":2.2},{"p":11,"x":2270.97,"y":4.4},{"p":11,"x":2271.52,"y":0.5},{"p":11,"x":2272.21,"y":1.3},{"p":11,"x":2273.32,"y":0.5},{"p":11,"x":2276,"y":0},{"p":11,"x":2279.6,"y":0},{"p":11,"x":2280.5,"y":0.3},
{"p":11,"x":2281.06,"y":3.8},{"p":11,"x":2281.47,"y":2.2},{"p":11,"x":2281.75,"y":16.5},{"p":11,"x":2282.11,"y":36.2},{"p":11,"x":2282.58,"y":11.7},{"p":11,"x":2283.07,"y":42},{"p":11,"x":2283.54,"y":11.7},{"p":11,"x":2284.1,"y":24.4},{"p":11,"x":2284.51,"y":3.8},{"p":11,"x":2284.98,"y":10.2},{"p":11,"x":2285.48,"y":1.3},{"p":11,"x":2286.03,"y":2.2},{"p":11,"x":2286.58,"y":0},{"p":11,"x":2289.9,"y":0},{"p":11,"x":2292.66,"y":0},{"p":11,"x":2295.4,"y":0},
{"p":11,"x":2295.65,"y":3.8},{"p":11,"x":2295.92,"y":42},{"p":11,"x":2296.25,"y":67.3},{"p":11,"x":2296.53,"y":42},{"p":11,"x":2296.81,"y":26.7},{"p":11,"x":2297.03,"y":48.3},{"p":11,"x":2297.22,"y":86.3},{"p":11,"x":2297.5,"y":51.4},{"p":11,"x":2297.83,"y":27.6},{"p":11,"x":2298.13,"y":58.4},{"p":11,"x":2298.33,"y":48.3},{"p":11,"x":2298.69,"y":19},{"p":11,"x":2299.02,"y":27.6},{"p":11,"x":2299.29,"y":22.9},{"p":11,"x":2299.63,"y":8.6},{"p":11,"x":2299.85,"y":5.4},{"p":11,"x":2300,"y":4.4}
]
},
"vconcat": [
{"width": 784, "height": 141,
"encoding": {"x": {"field": "x", "type": "quantitative", "scale": {"domain": [2250, 2300], "nice": false, "zero": false}, "axis": null},
"y": {"field": "y", "type": "quantitative", "scale": {"domain": [-3.5, 109], "nice": false, "zero": false}, "axis": {"title": null, "values": [0,5,10,15,20,25,30,35,40,45,50,55,60,65,70,75,80,85,90,95,100,105], "format": "d", "labelExpr": "datum.value == 0 || datum.value == 100 ? datum.label : ''", "labelPadding": 9.5}}},
"layer": [
{"data": {"name": "s"}, "transform": [{"filter": "datum.p == 1"}], "mark": {"type": "line", "color": "#3D46A8", "strokeWidth": 1.3}, "encoding": {}},
{"data": {"name": "l"}, "transform": [{"filter": "datum.p == 1 && datum.k == 'n'"}], "mark": {"type": "text", "align": "left"}, "encoding": {"text": {"field": "t"}}},
{"data": {"name": "l"}, "transform": [{"filter": "datum.p == 1 && datum.k == 'm'"}], "mark": {"type": "text", "align": "center"}, "encoding": {"text": {"field": "t"}}}
]},
{"width": 784, "height": 144,
"encoding": {"x": {"field": "x", "type": "quantitative", "scale": {"domain": [2250, 2300], "nice": false, "zero": false}, "axis": null},
"y": {"field": "y", "type": "quantitative", "scale": {"domain": [-4, 112], "nice": false, "zero": false}, "axis": {"title": null, "values": [0,10,20,30,40,50,60,70,80,90,100,110], "format": "d", "labelExpr": "datum.value == 0 || datum.value == 100 ? datum.label : ''", "labelPadding": 9.5}}},
"layer": [
{"data": {"name": "s"}, "transform": [{"filter": "datum.p == 2"}], "mark": {"type": "line", "color": "#FF2B0F", "strokeWidth": 1.3}, "encoding": {}},
{"data": {"name": "l"}, "transform": [{"filter": "datum.p == 2 && datum.k == 'n'"}], "mark": {"type": "text", "align": "left"}, "encoding": {"text": {"field": "t"}}},
{"data": {"name": "l"}, "transform": [{"filter": "datum.p == 2 && datum.k == 'm'"}], "mark": {"type": "text", "align": "center"}, "encoding": {"text": {"field": "t"}}}
]},
{"width": 784, "height": 148,
"encoding": {"x": {"field": "x", "type": "quantitative", "scale": {"domain": [2250, 2300], "nice": false, "zero": false}, "axis": null},
"y": {"field": "y", "type": "quantitative", "scale": {"domain": [-4, 114], "nice": false, "zero": false}, "axis": {"title": null, "values": [0,5,10,15,20,25,30,35,40,45,50,55,60,65,70,75,80,85,90,95,100,105,110], "format": "d", "labelExpr": "datum.value == 0 || datum.value == 100 ? datum.label : ''", "labelPadding": 9.5}}},
"layer": [
{"data": {"name": "s"}, "transform": [{"filter": "datum.p == 3"}], "mark": {"type": "line", "color": "#22E322", "strokeWidth": 1.3}, "encoding": {}},
{"data": {"name": "l"}, "transform": [{"filter": "datum.p == 3 && datum.k == 'n'"}], "mark": {"type": "text", "align": "left"}, "encoding": {"text": {"field": "t"}}},
{"data": {"name": "l"}, "transform": [{"filter": "datum.p == 3 && datum.k == 'm'"}], "mark": {"type": "text", "align": "center"}, "encoding": {"text": {"field": "t"}}}
]},
{"width": 784, "height": 145,
"encoding": {"x": {"field": "x", "type": "quantitative", "scale": {"domain": [2250, 2300], "nice": false, "zero": false}, "axis": null},
"y": {"field": "y", "type": "quantitative", "scale": {"domain": [-4, 112], "nice": false, "zero": false}, "axis": {"title": null, "values": [0,5,10,15,20,25,30,35,40,45,50,55,60,65,70,75,80,85,90,95,100,105,110], "format": "d", "labelExpr": "datum.value == 0 || datum.value == 100 ? datum.label : ''", "labelPadding": 9.5}}},
"layer": [
{"data": {"name": "s"}, "transform": [{"filter": "datum.p == 4"}], "mark": {"type": "line", "color": "#F848F5", "strokeWidth": 1.3}, "encoding": {}},
{"data": {"name": "l"}, "transform": [{"filter": "datum.p == 4 && datum.k == 'n'"}], "mark": {"type": "text", "align": "left"}, "encoding": {"text": {"field": "t"}}},
{"data": {"name": "l"}, "transform": [{"filter": "datum.p == 4 && datum.k == 'm'"}], "mark": {"type": "text", "align": "center"}, "encoding": {"text": {"field": "t"}}}
]},
{"width": 784, "height": 145,
"encoding": {"x": {"field": "x", "type": "quantitative", "scale": {"domain": [2250, 2300], "nice": false, "zero": false}, "axis": null},
"y": {"field": "y", "type": "quantitative", "scale": {"domain": [-4, 112], "nice": false, "zero": false}, "axis": {"title": "% Activity", "titlePadding": 12, "values": [0,5,10,15,20,25,30,35,40,45,50,55,60,65,70,75,80,85,90,95,100,105,110], "format": "d", "labelExpr": "datum.value == 0 || datum.value == 100 ? datum.label : ''", "labelPadding": 9.5}}},
"layer": [
{"data": {"name": "s"}, "transform": [{"filter": "datum.p == 5"}], "mark": {"type": "line", "color": "#1E3EF5", "strokeWidth": 1.3}, "encoding": {}},
{"data": {"name": "l"}, "transform": [{"filter": "datum.p == 5 && datum.k == 'n'"}], "mark": {"type": "text", "align": "left"}, "encoding": {"text": {"field": "t"}}},
{"data": {"name": "l"}, "transform": [{"filter": "datum.p == 5 && datum.k == 'm'"}], "mark": {"type": "text", "align": "center"}, "encoding": {"text": {"field": "t"}}}
]},
{"width": 784, "height": 147,
"encoding": {"x": {"field": "x", "type": "quantitative", "scale": {"domain": [2250, 2300], "nice": false, "zero": false}, "axis": null},
"y": {"field": "y", "type": "quantitative", "scale": {"domain": [-4, 113], "nice": false, "zero": false}, "axis": {"title": null, "values": [0,5,10,15,20,25,30,35,40,45,50,55,60,65,70,75,80,85,90,95,100,105,110], "format": "d", "labelExpr": "datum.value == 0 || datum.value == 100 ? datum.label : ''", "labelPadding": 9.5}}},
"layer": [
{"data": {"name": "s"}, "transform": [{"filter": "datum.p == 6"}], "mark": {"type": "line", "color": "#FFD300", "strokeWidth": 1.3}, "encoding": {}},
{"data": {"name": "l"}, "transform": [{"filter": "datum.p == 6 && datum.k == 'n'"}], "mark": {"type": "text", "align": "left"}, "encoding": {"text": {"field": "t"}}},
{"data": {"name": "l"}, "transform": [{"filter": "datum.p == 6 && datum.k == 'm'"}], "mark": {"type": "text", "align": "center"}, "encoding": {"text": {"field": "t"}}}
]},
{"width": 784, "height": 148,
"encoding": {"x": {"field": "x", "type": "quantitative", "scale": {"domain": [2250, 2300], "nice": false, "zero": false}, "axis": null},
"y": {"field": "y", "type": "quantitative", "scale": {"domain": [-4, 114], "nice": false, "zero": false}, "axis": {"title": null, "values": [0,5,10,15,20,25,30,35,40,45,50,55,60,65,70,75,80,85,90,95,100,105,110], "format": "d", "labelExpr": "datum.value == 0 || datum.value == 100 ? datum.label : ''", "labelPadding": 9.5}}},
"layer": [
{"data": {"name": "s"}, "transform": [{"filter": "datum.p == 7"}], "mark": {"type": "line", "color": "#1E9C9C", "strokeWidth": 1.3}, "encoding": {}},
{"data": {"name": "l"}, "transform": [{"filter": "datum.p == 7 && datum.k == 'n'"}], "mark": {"type": "text", "align": "left"}, "encoding": {"text": {"field": "t"}}},
{"data": {"name": "l"}, "transform": [{"filter": "datum.p == 7 && datum.k == 'm'"}], "mark": {"type": "text", "align": "center"}, "encoding": {"text": {"field": "t"}}}
]},
{"width": 784, "height": 125,
"encoding": {"x": {"field": "x", "type": "quantitative", "scale": {"domain": [2250, 2300], "nice": false, "zero": false}, "axis": null},
"y": {"field": "y", "type": "quantitative", "scale": {"domain": [-3, 116], "nice": false, "zero": false}, "axis": {"title": null, "values": [0,5,10,15,20,25,30,35,40,45,50,55,60,65,70,75,80,85,90,95,100,105,110,115], "format": "d", "labelExpr": "datum.value == 0 || datum.value == 100 ? datum.label : ''", "labelPadding": 9.5}}},
"layer": [
{"data": {"name": "s"}, "transform": [{"filter": "datum.p == 8"}], "mark": {"type": "line", "color": "#FF2B0F", "strokeWidth": 1.3}, "encoding": {}},
{"data": {"name": "l"}, "transform": [{"filter": "datum.p == 8 && datum.k == 'n'"}], "mark": {"type": "text", "align": "left"}, "encoding": {"text": {"field": "t"}}},
{"data": {"name": "l"}, "transform": [{"filter": "datum.p == 8 && datum.k == 'm'"}], "mark": {"type": "text", "align": "center"}, "encoding": {"text": {"field": "t"}}}
]},
{"width": 784, "height": 125,
"encoding": {"x": {"field": "x", "type": "quantitative", "scale": {"domain": [2250, 2300], "nice": false, "zero": false}, "axis": null},
"y": {"field": "y", "type": "quantitative", "scale": {"domain": [-3, 116], "nice": false, "zero": false}, "axis": {"title": null, "values": [0,20,40,60,80,100], "format": "d", "labelExpr": "datum.value == 0 || datum.value == 100 ? datum.label : ''", "labelPadding": 9.5}}},
"layer": [
{"data": {"name": "s"}, "transform": [{"filter": "datum.p == 9"}], "mark": {"type": "line", "color": "#3D46A8", "strokeWidth": 1.3}, "encoding": {}},
{"data": {"name": "l"}, "transform": [{"filter": "datum.p == 9 && datum.k == 'n'"}], "mark": {"type": "text", "align": "left"}, "encoding": {"text": {"field": "t"}}},
{"data": {"name": "l"}, "transform": [{"filter": "datum.p == 9 && datum.k == 'm'"}], "mark": {"type": "text", "align": "center"}, "encoding": {"text": {"field": "t"}}}
]},
{"width": 784, "height": 125,
"encoding": {"x": {"field": "x", "type": "quantitative", "scale": {"domain": [2250, 2300], "nice": false, "zero": false}, "axis": null},
"y": {"field": "y", "type": "quantitative", "scale": {"domain": [-3, 116], "nice": false, "zero": false}, "axis": {"title": null, "values": [0,5,10,15,20,25,30,35,40,45,50,55,60,65,70,75,80,85,90,95,100,105,110,115], "format": "d", "labelExpr": "datum.value == 0 || datum.value == 100 ? datum.label : ''", "labelPadding": 9.5}}},
"layer": [
{"data": {"name": "s"}, "transform": [{"filter": "datum.p == 10"}], "mark": {"type": "line", "color": "#22E322", "strokeWidth": 1.3}, "encoding": {}},
{"data": {"name": "l"}, "transform": [{"filter": "datum.p == 10 && datum.k == 'n'"}], "mark": {"type": "text", "align": "left"}, "encoding": {"text": {"field": "t"}}},
{"data": {"name": "l"}, "transform": [{"filter": "datum.p == 10 && datum.k == 'm'"}], "mark": {"type": "text", "align": "center"}, "encoding": {"text": {"field": "t"}}}
]},
{"width": 784, "height": 126,
"encoding": {"x": {"field": "x", "type": "quantitative", "scale": {"domain": [2250, 2300], "nice": false, "zero": false}, "axis": {"title": "Mass (m/z)", "titlePadding": 4, "values": [2250,2251,2252,2253,2254,2255,2256,2257,2258,2259,2260,2261,2262,2263,2264,2265,2266,2267,2268,2269,2270,2271,2272,2273,2274,2275,2276,2277,2278,2279,2280,2281,2282,2283,2284,2285,2286,2287,2288,2289,2290,2291,2292,2293,2294,2295,2296,2297,2298,2299,2300], "format": "d", "labelExpr": "datum.value % 15 == 0 ? datum.label : ''", "labelPadding": 7.5}},
"y": {"field": "y", "type": "quantitative", "scale": {"domain": [-3, 117], "nice": false, "zero": false}, "axis": {"title": null, "values": [0,5,10,15,20,25,30,35,40,45,50,55,60,65,70,75,80,85,90,95,100,105,110,115], "format": "d", "labelExpr": "datum.value == 0 || datum.value == 100 ? datum.label : ''", "labelPadding": 9.5}}},
"layer": [
{"data": {"name": "s"}, "transform": [{"filter": "datum.p == 11"}], "mark": {"type": "line", "color": "#F848F5", "strokeWidth": 1.3}, "encoding": {}},
{"data": {"name": "l"}, "transform": [{"filter": "datum.p == 11 && datum.k == 'n'"}], "mark": {"type": "text", "align": "left"}, "encoding": {"text": {"field": "t"}}},
{"data": {"name": "l"}, "transform": [{"filter": "datum.p == 11 && datum.k == 'm'"}], "mark": {"type": "text", "align": "center"}, "encoding": {"text": {"field": "t"}}}
]}
]
}
